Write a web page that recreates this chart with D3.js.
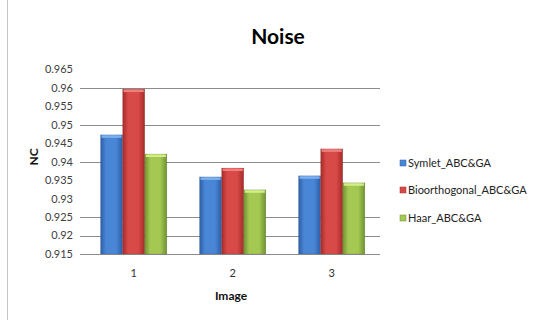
<!DOCTYPE html>
<html><head><meta charset="utf-8">
<script src="https://cdn.jsdelivr.net/npm/d3@7/dist/d3.min.js"></script>
<style>body{margin:0;background:#fff}svg{display:block}</style>
</head><body>
<script>
const categories = ["1","2","3"];
const seriesNames = ["Symlet_ABC&GA","Bioorthogonal_ABC&GA","Haar_ABC&GA"];
const symlet = [0.9473, 0.9359, 0.9362];
const bioorth = [0.9597, 0.9383, 0.9435];
const haar = [0.9421, 0.9324, 0.9343];
const yTicks = [0.915,0.92,0.925,0.93,0.935,0.94,0.945,0.95,0.955,0.96,0.965];
const gridValues = [0.915,0.92,0.925,0.94,0.95,0.96];
const colors = [
  {mid:"#4a86d6", edge:"#2b5ea6", cap:"#7fb0ee"},
  {mid:"#d84a48", edge:"#a52a28", cap:"#f08080"},
  {mid:"#a4c852", edge:"#6f9232", cap:"#d2ee86"}
];
const seriesValues = [symlet, bioorth, haar];

const W=544,H=320;
const svg=d3.select("body").append("svg").attr("width",W).attr("height",H);
const font="Lato, 'Open Sans', sans-serif";

svg.append("line").attr("x1",7.5).attr("x2",7.5).attr("y1",0).attr("y2",H).attr("stroke","#c4c4c4");

const x=d3.scaleBand().domain(categories).range([82,380]).paddingInner(0.33).paddingOuter(0.17).align(0.55);
const xs=d3.scaleBand().domain(d3.range(seriesNames.length)).range([0,x.bandwidth()]);
const y=d3.scaleLinear().domain([0.915,0.965]).range([254,69.5]);

const defs=svg.append("defs");
colors.forEach((c,i)=>{
  const g=defs.append("linearGradient").attr("id","g"+i).attr("x1",0).attr("x2",1).attr("y1",0).attr("y2",0);
  g.append("stop").attr("offset","0%").attr("stop-color",c.edge);
  g.append("stop").attr("offset","25%").attr("stop-color",c.mid);
  g.append("stop").attr("offset","70%").attr("stop-color",c.mid);
  g.append("stop").attr("offset","100%").attr("stop-color",c.edge);
});

svg.append("g").selectAll("line").data(gridValues).join("line")
  .attr("x1",80).attr("x2",380).attr("y1",d=>Math.round(y(d))+0.5).attr("y2",d=>Math.round(y(d))+0.5)
  .attr("stroke","#8c8c8c").attr("stroke-width",1);

svg.append("g").selectAll("text").data(yTicks).join("text")
  .attr("x",73).attr("y",d=>y(d)).attr("dy","0.35em").attr("text-anchor","end")
  .attr("font-family",font).attr("font-size",11).attr("fill","#404040")
  .text(d=>d3.format("")(d));

const groups=svg.append("g").selectAll("g").data(categories).join("g")
  .attr("transform",d=>`translate(${x(d)},0)`);
groups.each(function(cat,ci){
  const g=d3.select(this);
  seriesValues.forEach((vals,si)=>{
    const bx=xs(si), bw=xs.bandwidth(), top=y(vals[ci]), base=y(0.915);
    g.append("rect").attr("x",bx).attr("y",top).attr("width",bw).attr("height",base-top)
      .attr("fill",`url(#g${si})`).attr("stroke","rgba(0,0,0,0.15)").attr("stroke-width",0.6);
    g.append("rect").attr("x",bx+1).attr("y",top+0.5).attr("width",bw-2).attr("height",2.5)
      .attr("fill",colors[si].cap);
  });
});

svg.append("g").selectAll("text").data(categories).join("text")
  .attr("x",d=>x(d)+x.bandwidth()/2).attr("y",277).attr("text-anchor","middle")
  .attr("font-family",font).attr("font-size",11).attr("fill","#303030").text(d=>d);

svg.append("text").attr("x",231).attr("y",300).attr("text-anchor","middle")
  .attr("font-family",font).attr("font-weight","bold").attr("font-size",12).attr("fill","#111").text("Image");
svg.append("text").attr("transform","translate(38,157) rotate(-90)").attr("text-anchor","middle")
  .attr("font-family",font).attr("font-weight","bold").attr("font-size",12).attr("fill","#111").text("NC");

svg.append("text").attr("x",278).attr("y",44).attr("text-anchor","middle")
  .attr("font-family",font).attr("font-weight","bold").attr("font-size",21).attr("fill","#000").text("Noise");

const legY=[163,190,218];
const leg=svg.append("g").selectAll("g").data(seriesNames).join("g")
  .attr("transform",(d,i)=>`translate(400,${legY[i]})`);
leg.append("rect").attr("x",0).attr("y",-3).attr("width",6).attr("height",6).attr("fill",(d,i)=>colors[i].mid).attr("stroke",(d,i)=>colors[i].edge).attr("stroke-width",0.5);
leg.append("text").attr("x",8).attr("y",0).attr("dy","0.35em")
  .attr("font-family",font).attr("font-size",11).attr("fill","#222").text(d=>d);
</script>
</body></html>
